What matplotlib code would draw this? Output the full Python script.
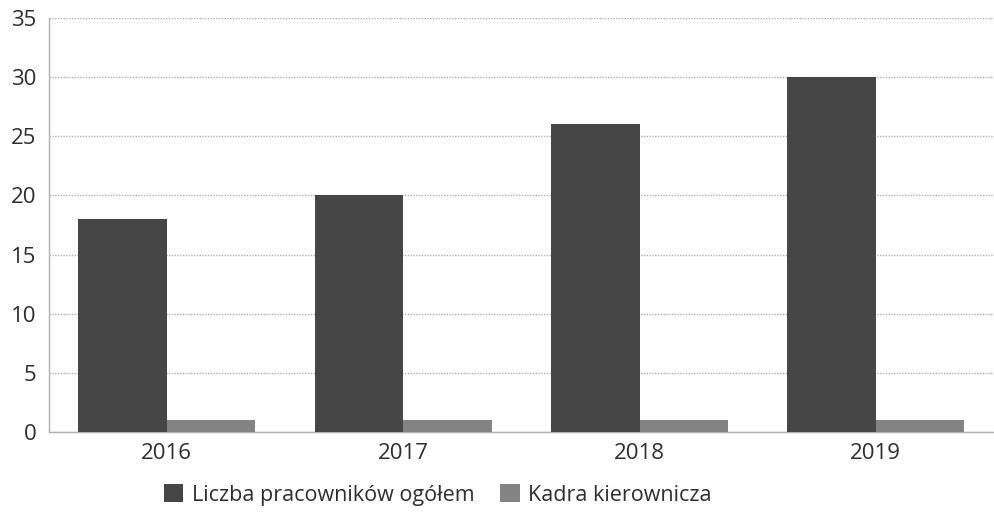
import numpy as np
import matplotlib

matplotlib.use("Agg")
import matplotlib.pyplot as plt

plt.rcParams["font.family"] = ["Open Sans", "DejaVu Sans"]

YEARS = ["2016", "2017", "2018", "2019"]
TOTAL_STAFF = [18, 20, 26, 30]
MANAGEMENT = [1, 1, 1, 1]
SERIES_NAMES = ["Liczba pracowników ogółem", "Kadra kierownicza"]

DARK = "#464646"
LIGHT = "#838383"
TEXT = "#2e2e2e"
GRID = "#b0b0b0"

fig = plt.figure(figsize=(9.94, 5.15), dpi=100)
ax = fig.add_axes([0.049, 0.161, 0.951, 0.804])

x = np.arange(len(YEARS))
w = 0.375
ax.bar(x - w / 2, TOTAL_STAFF, width=w, color=DARK, label=SERIES_NAMES[0], zorder=3)
ax.bar(x + w / 2, MANAGEMENT, width=w, color=LIGHT, label=SERIES_NAMES[1], zorder=3)

ax.set_xlim(-0.5, len(YEARS) - 0.5)
ax.set_ylim(0, 35)
ax.set_yticks(range(0, 36, 5))
ax.set_xticks(x)
ax.set_xticklabels(YEARS)
ax.tick_params(axis="both", length=0, labelsize=16, colors=TEXT)
ax.tick_params(axis="y", pad=9)
ax.tick_params(axis="x", pad=8)

ax.yaxis.grid(True, linestyle=(0, (1, 1)), color=GRID, linewidth=1.0, zorder=0)
for side in ("top", "right"):
    ax.spines[side].set_visible(False)
for side in ("left", "bottom"):
    ax.spines[side].set_linestyle((0, (1, 1)))
    ax.spines[side].set_color(GRID)
    ax.spines[side].set_linewidth(1.0)

fig.legend(
    loc="center",
    bbox_to_anchor=(438 / 994, 1 - 495 / 515),
    ncol=2,
    frameon=False,
    fontsize=15.5,
    handlelength=0.9,
    handleheight=0.9,
    handletextpad=0.4,
    columnspacing=1.2,
    labelcolor=TEXT,
)

fig.savefig("out.png", dpi=100, facecolor="white")
